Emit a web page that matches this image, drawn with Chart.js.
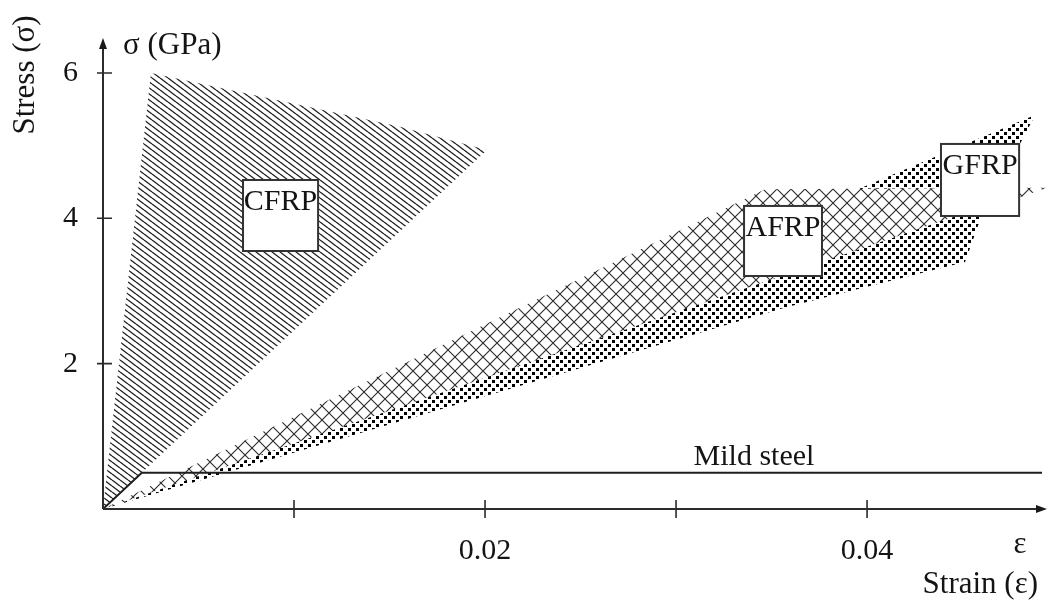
<!DOCTYPE html>
<html>
<head>
<meta charset="utf-8">
<script src="https://cdn.jsdelivr.net/npm/chart.js@4.4.1/dist/chart.umd.min.js"></script>
<style>
html,body{margin:0;padding:0;background:#fff}
#wrap{width:1050px;height:606px;position:relative}
</style>
</head>
<body>
<div id="wrap"><canvas id="c"></canvas></div>
<script>
// ---- tick values / labels ----
const xTickValues = [0.01, 0.02, 0.03, 0.04];
const xTickLabels = ['', '0.02', '', '0.04'];
const yTickValues = [2, 4, 6];
const yTickLabels = ['2', '4', '6'];

// ---- material envelopes (strain, stress GPa) ----
const cfrpStrain = [0, 0.00251, 0.01031, 0.01555, 0.0201, 0];
const cfrpStress = [0, 6.00, 5.56, 5.26, 4.94, 0];

const gfrpStrain = [0, 0.0407, 0.0488, 0.04592, 0.04513, 0.03581, 0.02602, 0];
const gfrpStress = [0, 4.53, 5.42, 3.98, 3.40, 2.78, 2.02, 0];

const afrpStrain = [0, 0.03466, 0.04801, 0.04942, 0.04801, 0.04487, 0];
const afrpStress = [0, 4.40, 4.42, 4.42, 4.29, 4.05, 0];

const steelStrain = [0, 0.00203, 0.04916];
const steelStress = [0, 0.50, 0.50];

// ---- label boxes (data coordinates) ----
const boxLabels = ['CFRP', 'AFRP', 'GFRP'];
const boxStrainFrom = [0.00733, 0.03356, 0.04387];
const boxStrainTo   = [0.01126, 0.03764, 0.04796];
const boxStressTop  = [4.527, 4.170, 5.023];
const boxStressBottom = [3.550, 3.206, 4.032];
const steelLabel = 'Mild steel';
const steelLabelStrain = 0.03408;
const steelLabelStress = 0.716;

const FONT = "'Liberation Serif', 'DejaVu Serif', serif";
const INK = '#141414';

function pts(xs, ys) { return xs.map((v, i) => ({x: v, y: ys[i]})); }

function hatchPattern() {
  const c = document.createElement('canvas'); c.width = 8; c.height = 6;
  const g = c.getContext('2d');
  g.strokeStyle = '#222'; g.lineWidth = 1.35;
  for (const k of [-1, 0, 1]) { g.beginPath(); g.moveTo(0, k * 6); g.lineTo(8, k * 6 + 6); g.stroke(); }
  return g.createPattern(c, 'repeat');
}
function crossPattern() {
  const s = 14;
  const c = document.createElement('canvas'); c.width = s; c.height = s;
  const g = c.getContext('2d');
  g.fillStyle = '#fff'; g.fillRect(0, 0, s, s);
  g.strokeStyle = '#2a2a2a'; g.lineWidth = 1.1;
  g.beginPath(); g.moveTo(0, 0); g.lineTo(s, s); g.moveTo(s, 0); g.lineTo(0, s); g.stroke();
  return g.createPattern(c, 'repeat');
}
function dotPattern() {
  const s = 8;
  const c = document.createElement('canvas'); c.width = s; c.height = s;
  const g = c.getContext('2d');
  g.fillStyle = '#fff'; g.fillRect(0, 0, s, s);
  g.fillStyle = '#000';
  g.fillRect(0, 0, 3, 3); g.fillRect(4, 4, 3, 3);
  return g.createPattern(c, 'repeat');
}

const decorPlugin = {
  id: 'decor',
  afterDatasetsDraw(chart) {
    const {ctx, chartArea: a, scales: {x, y}} = chart;
    const x0 = x.getPixelForValue(0), y0 = y.getPixelForValue(0);
    ctx.save();
    // axes
    ctx.strokeStyle = '#2b2b2b'; ctx.lineWidth = 2;
    ctx.beginPath();
    ctx.moveTo(x0, y0); ctx.lineTo(x0, a.top + 6);
    ctx.moveTo(x0, y0); ctx.lineTo(a.right - 6, y0);
    ctx.stroke();
    ctx.fillStyle = '#1a1a1a';
    ctx.beginPath(); ctx.moveTo(x0, a.top); ctx.lineTo(x0 - 4, a.top + 11); ctx.lineTo(x0 + 4, a.top + 11); ctx.closePath(); ctx.fill();
    ctx.beginPath(); ctx.moveTo(a.right, y0); ctx.lineTo(a.right - 11, y0 - 4); ctx.lineTo(a.right - 11, y0 + 4); ctx.closePath(); ctx.fill();
    // tick marks crossing the axes
    ctx.lineWidth = 1.6;
    ctx.beginPath();
    yTickValues.forEach(v => { const p = y.getPixelForValue(v); ctx.moveTo(x0 - 6, p); ctx.lineTo(x0 + 9, p); });
    xTickValues.forEach(v => { const p = x.getPixelForValue(v); ctx.moveTo(p, y0 - 9); ctx.lineTo(p, y0 + 9); });
    ctx.stroke();

    // label boxes
    ctx.font = '30px ' + FONT;
    ctx.textAlign = 'center'; ctx.textBaseline = 'middle';
    boxLabels.forEach((t, i) => {
      const l = x.getPixelForValue(boxStrainFrom[i]), r = x.getPixelForValue(boxStrainTo[i]);
      const tp = y.getPixelForValue(boxStressTop[i]), bt = y.getPixelForValue(boxStressBottom[i]);
      ctx.fillStyle = '#fff'; ctx.fillRect(l, tp, r - l, bt - tp);
      ctx.strokeStyle = '#333'; ctx.lineWidth = 2; ctx.strokeRect(l, tp, r - l, bt - tp);
      ctx.fillStyle = INK; ctx.fillText(t, (l + r) / 2, tp + 22);
    });
    ctx.fillStyle = INK;
    ctx.fillText(steelLabel, x.getPixelForValue(steelLabelStrain), y.getPixelForValue(steelLabelStress));

    // axis annotations
    ctx.font = '31px ' + FONT;
    ctx.textAlign = 'left';
    ctx.fillText('σ (GPa)', x0 + 20, a.top + 8);
    ctx.textAlign = 'center';
    ctx.fillText('ε', a.right - 27, y0 + 36);
    ctx.textAlign = 'right';
    ctx.fillText('Strain (ε)', a.right - 9, y0 + 76);
    ctx.save();
    ctx.translate(26, a.top + 37);
    ctx.rotate(-Math.PI / 2);
    ctx.textAlign = 'center';
    ctx.fillText('Stress (σ)', 0, 0);
    ctx.restore();
    ctx.restore();
  }
};

const polyBase = {showLine: true, pointRadius: 0, borderWidth: 0, borderColor: 'rgba(0,0,0,0)', fill: 'shape', tension: 0};

new Chart(document.getElementById('c'), {
  type: 'scatter',
  data: {
    datasets: [
      {label: 'Mild steel', data: pts(steelStrain, steelStress), showLine: true, pointRadius: 0, borderColor: '#1e1e1e', borderWidth: 2, fill: false, order: 0},
      Object.assign({}, polyBase, {label: 'AFRP', data: pts(afrpStrain, afrpStress), backgroundColor: crossPattern(), order: 1}),
      Object.assign({}, polyBase, {label: 'GFRP', data: pts(gfrpStrain, gfrpStress), backgroundColor: dotPattern(), order: 2}),
      Object.assign({}, polyBase, {label: 'CFRP', data: pts(cfrpStrain, cfrpStress), backgroundColor: hatchPattern(), order: 3})
    ]
  },
  options: {
    responsive: true,
    maintainAspectRatio: false,
    animation: false,
    layout: {padding: {top: 38, right: 3, left: 0, bottom: 0}},
    plugins: {legend: {display: false}, tooltip: {enabled: false}},
    scales: {
      x: {
        type: 'linear', min: 0, max: 0.04942,
        grid: {display: false}, border: {display: false},
        afterBuildTicks: s => { s.ticks = xTickValues.map(v => ({value: v})); },
        afterFit: s => { s.height = 97; },
        ticks: {
          padding: 16, color: INK, font: {family: FONT, size: 30},
          callback: v => { const i = xTickValues.findIndex(t => Math.abs(t - v) < 1e-9); return i >= 0 ? xTickLabels[i] : ''; }
        }
      },
      y: {
        type: 'linear', min: 0, max: 6.481,
        grid: {display: false}, border: {display: false},
        afterBuildTicks: s => { s.ticks = yTickValues.map(v => ({value: v})); },
        afterFit: s => { s.width = 103; },
        ticks: {
          padding: 17, color: INK, font: {family: FONT, size: 30},
          callback: v => { const i = yTickValues.findIndex(t => Math.abs(t - v) < 1e-9); return i >= 0 ? yTickLabels[i] : ''; }
        }
      }
    }
  },
  plugins: [decorPlugin]
});
</script>
</body>
</html>
